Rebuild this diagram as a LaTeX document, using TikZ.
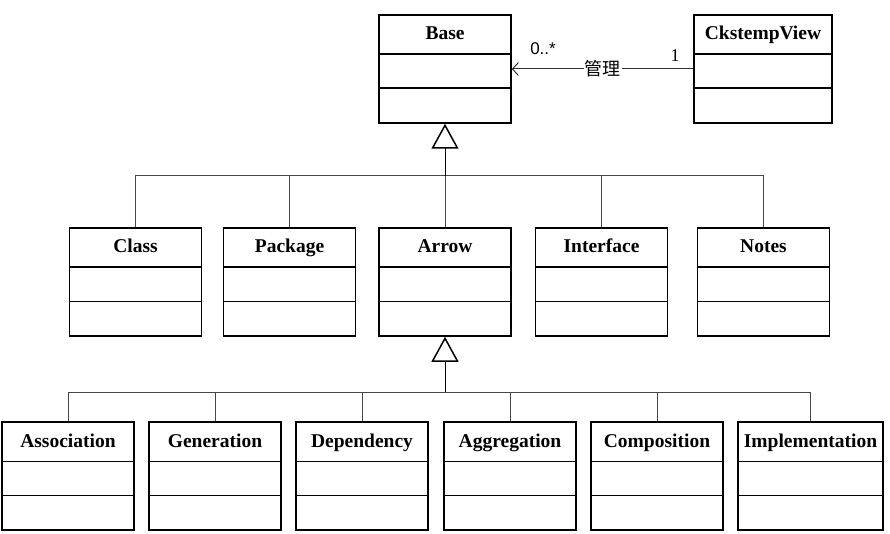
\documentclass[tikz,border=0pt]{standalone}
\usepackage{fontspec}
\setmainfont{Liberation Serif}
\newfontfamily\cjk{Noto Sans CJK SC}
\newfontfamily\lsans{Liberation Sans}
\usetikzlibrary{arrows.meta,calc}
\tikzset{
  ubox/.style={draw=black, line width=1.5pt, minimum height=108pt, inner sep=0pt},
  uboxline/.style={draw=black, line width=1.5pt},
  utitle/.style={font=\fontsize{19.5}{22}\selectfont\bfseries, inner sep=0pt, text height=13.5pt, text depth=4pt},
  conn/.style={draw=black!72, line width=1pt},
  trunk/.style={draw=black, line width=1pt, -{Triangle[open, length=25pt, width=27pt, line width=1.5pt]}},
  assoc/.style={draw=black!80, line width=1pt, -{Straight Barb[length=6pt, width=13pt, line width=1pt]}},
  mult/.style={inner sep=1pt}
}
\newcommand\umlclass[5]{%
  \node[ubox, minimum width=#4pt] (#1) at (#2,#3) {};
  \node[utitle] (#1-t) at ($(#1.north)+(0,21)$) {#5};
  \draw[uboxline] ($(#1.north west)+(0,40)$) -- ($(#1.north east)+(0,40)$);
  \draw[uboxline] ($(#1.north west)+(0,74)$) -- ($(#1.north east)+(0,74)$);
}
\begin{document}
\begin{tikzpicture}[x=1pt,y=-1pt]
\useasboundingbox (0,0) rectangle (890,534);
% top row
\umlclass{base}{445}{69}{132}{Base}
\umlclass{ckv}{763}{69}{138}{CkstempView}
% middle row
\umlclass{class}{135.5}{282}{132}{Class}
\umlclass{package}{289.5}{282}{132}{Package}
\umlclass{arrow}{445}{282}{132}{Arrow}
\umlclass{interface}{601.5}{282}{132}{Interface}
\umlclass{notes}{763.5}{282}{132}{Notes}
% bottom row
\umlclass{association}{68}{476}{132}{Association}
\umlclass{generation}{215}{476}{132}{Generation}
\umlclass{dependency}{362}{476}{132}{Dependency}
\umlclass{aggregation}{510}{476}{132}{Aggregation}
\umlclass{composition}{657}{476}{132}{Composition}
\umlclass{implementation}{810.5}{476}{145}{Implementation}
% association Base <- CkstempView
\draw[assoc] (ckv.west |- base.center) -- node[fill=white, inner sep=1pt, font=\cjk\fontsize{18}{20}\selectfont] (mgr) {管理} (base.east);
\node[mult, font=\lsans\fontsize{17}{19}\selectfont] (m0) at (543,49) {0..*};
\node[mult, font=\fontsize{18}{20}\selectfont] (m1) at (675,56) {1};
% first generalisation tree
\coordinate (bus1) at (445,176);
\draw[conn] (class.north) |- (bus1);
\draw[conn] (package.north) |- (bus1);
\draw[conn] (interface.north) |- (bus1);
\draw[conn] (notes.north) |- (bus1);
\draw[conn] (arrow.north) -- (bus1);
\draw[trunk] (bus1) -- (base.south);
% second generalisation tree
\coordinate (bus2) at (445,392);
\draw[conn] (association.north) |- (bus2);
\draw[conn] (generation.north) |- (bus2);
\draw[conn] (dependency.north) |- (bus2);
\draw[conn] (aggregation.north) |- (bus2);
\draw[conn] (composition.north) |- (bus2);
\draw[conn] (implementation.north) |- (bus2);
\draw[trunk] (bus2) -- (arrow.south);
\end{tikzpicture}
\end{document}
